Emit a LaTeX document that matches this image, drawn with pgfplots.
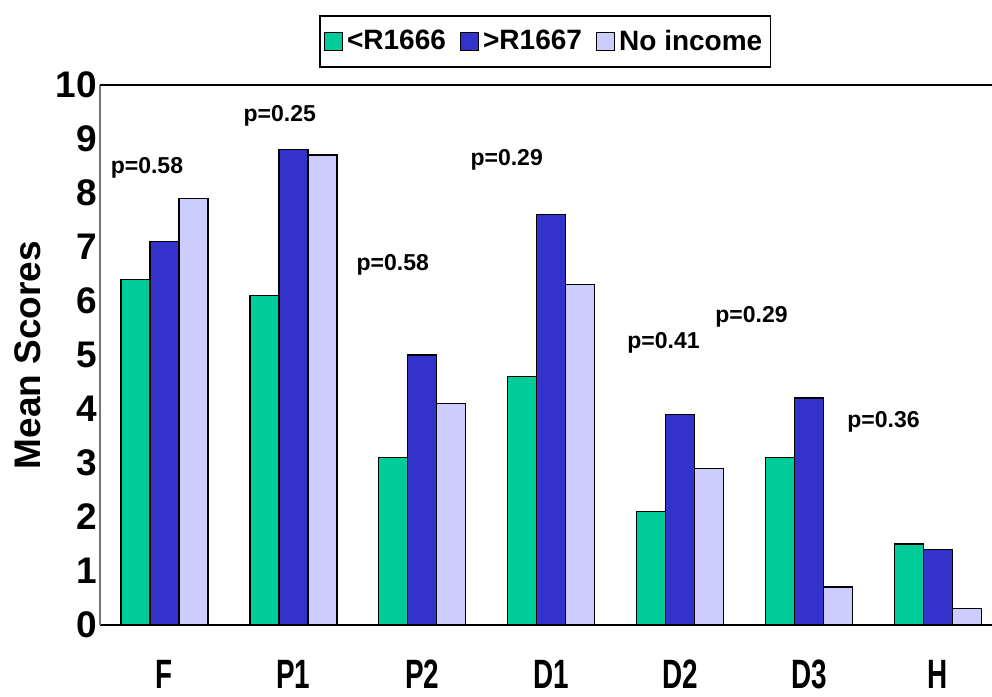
\documentclass[border=0pt]{standalone}
\usepackage{fontspec}
\setmainfont{Liberation Sans}
\newfontfamily\narrowfont{Liberation Sans}[FakeStretch=0.68]
\usepackage{pgfplots}
\pgfplotsset{compat=1.18}

\definecolor{cgreen}{HTML}{00CC99}
\definecolor{cblue}{HTML}{3333CC}
\definecolor{clight}{HTML}{CCCCFF}

\pgfplotsset{
  sqlegend/.style={legend image code/.code={\draw[##1,draw=black,line width=0.6pt] (0pt,-4.5pt) rectangle (9pt,4.5pt);}},
}

\begin{document}
\begin{tikzpicture}
\useasboundingbox (0,0) rectangle (496pt,348.5pt);
\begin{axis}[
    at={(50pt,36pt)}, anchor=south west,
    scale only axis,
    width=446pt, height=270pt,
    xmin=-0.5, xmax=6.42,
    ymin=0, ymax=10,
    ytick={0,1,...,10},
    xtick={0,1,...,6},
    xticklabels={F,P1,P2,D1,D2,D3,H},
    axis lines*=left,
    x axis line style={black, line width=0.9pt},
    y axis line style={black!55, line width=1.2pt},
    major tick length=0pt,
    ybar=0pt,
    bar width=14.5pt,
    clip=false,
    /pgf/number format/assume math mode=true,
    yticklabel style={font=\bfseries\fontsize{18.5}{18.5}\selectfont, inner sep=0pt, xshift=-1.5pt},
    xticklabel style={font=\narrowfont\bfseries\fontsize{20.5}{20.5}\selectfont, anchor=base, inner sep=0pt, yshift=-31.5pt},
    ylabel={Mean Scores},
    ylabel style={at={([xshift=-36pt]rel axis cs:0,0.5)}, anchor=center, rotate=0, font=\bfseries\fontsize{18.5}{18.5}\selectfont},
    legend columns=3,
    legend style={at={(0.499,1)}, anchor=south, yshift=8.5pt,
        draw=black, line width=0.8pt,
        font=\bfseries\fontsize{14}{14}\selectfont,
        inner xsep=2pt, inner ysep=5pt,
        /tikz/every even column/.append style={column sep=5pt}},
]

% <R1666
\addplot[fill=cgreen, draw=black, line width=0.7pt, sqlegend] coordinates {
    (0,6.4) (1,6.1) (2,3.1) (3,4.6) (4,2.1) (5,3.1) (6,1.5)
};
\addlegendentry{<R1666}

% >R1667
\addplot[fill=cblue, draw=black, line width=0.7pt, sqlegend] coordinates {
    (0,7.1) (1,8.8) (2,5.0) (3,7.6) (4,3.9) (5,4.2) (6,1.4)
};
\addlegendentry{>R1667}

% No income
\addplot[fill=clight, draw=black, line width=0.7pt, sqlegend] coordinates {
    (0,7.9) (1,8.7) (2,4.1) (3,6.3) (4,2.9) (5,0.7) (6,0.3)
};
\addlegendentry{No income}

\draw[black, line width=1.2pt] (rel axis cs:0,1) -- (rel axis cs:1,1);

% p-values
\begin{scope}[every node/.style={font=\bfseries\fontsize{11.5}{11.5}\selectfont}]
\node at (axis cs:-0.136,8.46) {p=0.58};
\node at (axis cs:0.895,9.43) {p=0.25};
\node at (axis cs:1.771,6.67) {p=0.58};
\node at (axis cs:2.655,8.61) {p=0.29};
\node at (axis cs:3.872,5.22) {p=0.41};
\node at (axis cs:4.554,5.70) {p=0.29};
\node at (axis cs:5.578,3.76) {p=0.36};
\end{scope}

\end{axis}
\end{tikzpicture}
\end{document}
